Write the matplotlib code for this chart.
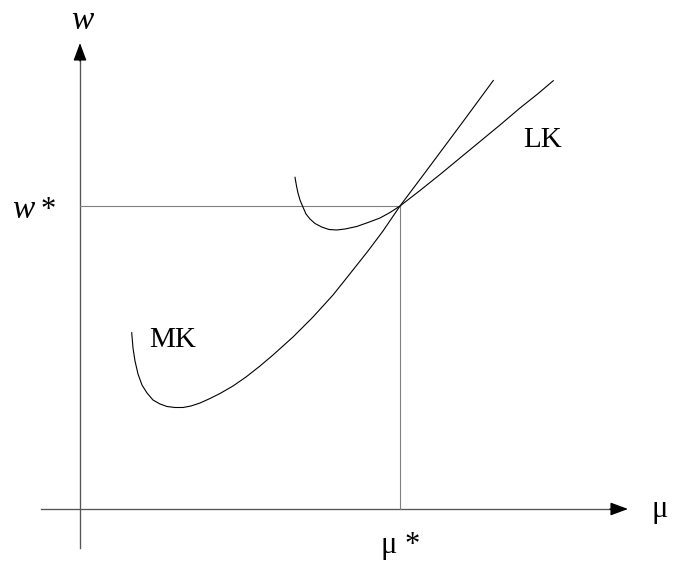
import matplotlib.pyplot as plt

# кривая MK (предельные издержки)
mk_mu = [51.7, 53, 55, 58, 62, 67, 73, 80, 87, 95, 103, 111, 120, 130, 140, 153,
         166, 180, 193, 213, 233, 253, 265, 288, 303, 320, 350, 382, 413.3]
mk_w = [176.3, 161, 148, 135, 124, 116, 109, 105, 102.5, 101.5, 101.5, 103, 106,
        110.5, 115.5, 123, 132, 143, 154, 172, 192, 214, 229, 258, 278, 303, 343,
        386, 428.5]

# кривая LK (средние издержки)
lk_mu = [215, 216.5, 218, 220, 222.7, 226, 230, 235, 241.7, 249, 256.7, 265, 276.7,
         288, 300, 310, 320, 340, 360, 380, 400, 420, 440, 457, 473.3]
lk_w = [331.7, 323, 316, 309, 302.5, 295, 290, 285.5, 282, 279.5, 279, 280, 282.5,
        286.5, 291, 296.5, 303, 318.5, 334.5, 351, 367.5, 384, 401, 414.5, 428.3]

# точка равновесия
mu_star = 320
w_star = 303

serif = ['Liberation Serif', 'DejaVu Serif']

fig = plt.figure(figsize=(6.74, 5.63), dpi=100)
ax = fig.add_axes([0, 0, 1, 1])
ax.set_xlim(-80, 594)
ax.set_ylim(-54, 509)
ax.axis('off')

# оси
axis_col = '#555555'
ax.plot([-39, 535], [0, 0], color=axis_col, lw=0.95)
ax.plot([0, 0], [-39, 455], color=axis_col, lw=0.95)
head = dict(arrowstyle='-|>,head_length=1.08,head_width=0.4', mutation_scale=10,
            color='black', lw=0.95, shrinkA=0, shrinkB=0)
ax.annotate('', xy=(548, 0), xytext=(530, 0), arrowprops=head)
ax.annotate('', xy=(0, 466), xytext=(0, 448), arrowprops=head)

# вспомогательные линии
guide_col = '#808080'
ax.plot([0, mu_star], [w_star, w_star], color=guide_col, lw=0.8)
ax.plot([mu_star, mu_star], [0, w_star], color=guide_col, lw=0.8)

# кривые
ax.plot(mk_mu, mk_w, color='black', lw=0.8)
ax.plot(lk_mu, lk_w, color='black', lw=0.8)

# подписи
ax.text(-8.3, 479.7, 'w', family=serif, style='italic', fontsize=24, va='baseline')
ax.text(-67.3, 291, 'w', family=serif, style='italic', fontsize=24, va='baseline')
ax.text(-39.5, 291, '*', family=serif, fontsize=22, va='baseline')
ax.text(mu_star + 1, -44, 'μ *', family=serif, fontsize=22, ha='center', va='baseline')
ax.text(580, -8, 'μ', family=serif, fontsize=22, ha='center', va='baseline')
ax.text(69, 162, 'MK', family=serif, fontsize=21, va='baseline')
ax.text(442.7, 362, 'LK', family=serif, fontsize=21, va='baseline')

fig.savefig('out.png', dpi=100)
